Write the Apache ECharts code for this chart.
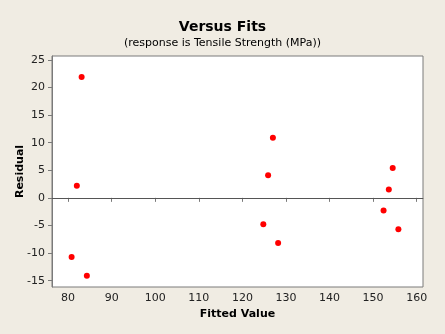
<!DOCTYPE html>
<html>
<head>
<meta charset="utf-8">
<script src="https://cdn.jsdelivr.net/npm/echarts@6/dist/echarts.min.js"></script>
<style>
html, body { margin: 0; padding: 0; background: #F0ECE3; }
#main { width: 445px; height: 334px; }
</style>
</head>
<body>
<div id="main"></div>
<script>
// fitted values and residuals
var fitted = [83.1, 82.0, 80.8, 84.3, 127.0, 125.9, 124.8, 128.2, 154.5, 153.6, 152.4, 155.8];
var residual = [21.9, 2.2, -10.7, -14.1, 10.9, 4.1, -4.8, -8.2, 5.4, 1.5, -2.3, -5.7];
var xTicks = [80, 90, 100, 110, 120, 130, 140, 150, 160];
var yTicks = [-15, -10, -5, 0, 5, 10, 15, 20, 25];

var points = [];
for (var i = 0; i < fitted.length; i++) {
    points.push([fitted[i], residual[i]]);
}

var font = 'DejaVu Sans';
var myChart = echarts.init(document.getElementById('main'));
var option = {
    backgroundColor: '#F0ECE3',
    animation: false,
    title: {
        text: 'Versus Fits',
        subtext: '(response is Tensile Strength (MPa))',
        left: 'center',
        top: 15,
        itemGap: 4,
        textStyle: { fontFamily: font, fontSize: 14, fontWeight: 'bold', color: '#000' },
        subtextStyle: { fontFamily: font, fontSize: 11, color: '#000' }
    },
    grid: {
        left: 52, top: 56, right: 22, bottom: 47,
        outerBoundsMode: 'none',
        containLabel: false,
        show: true,
        backgroundColor: '#fff',
        borderColor: '#7a7a7a',
        borderWidth: 1
    },
    xAxis: {
        type: 'value',
        min: 76.3,
        max: 161.45,
        name: 'Fitted Value',
        nameLocation: 'middle',
        nameGap: 22,
        nameMoveOverlap: false,
        nameTextStyle: { fontFamily: font, fontSize: 11, fontWeight: 'bold', color: '#000' },
        splitLine: { show: false },
        axisLine: { lineStyle: { color: '#7a7a7a' } },
        axisTick: { length: 4, customValues: xTicks, lineStyle: { color: '#7a7a7a' } },
        axisLabel: { customValues: xTicks, margin: 6, fontFamily: font, fontSize: 11, color: '#222' }
    },
    yAxis: {
        type: 'value',
        min: -16.15,
        max: 25.7,
        name: 'Residual',
        nameLocation: 'middle',
        nameGap: 26,
        nameMoveOverlap: false,
        nameTextStyle: { fontFamily: font, fontSize: 11, fontWeight: 'bold', color: '#000' },
        splitLine: { show: false },
        axisLine: { lineStyle: { color: '#7a7a7a' } },
        axisTick: { length: 4, customValues: yTicks, lineStyle: { color: '#7a7a7a' } },
        axisLabel: { customValues: yTicks, margin: 7, fontFamily: font, fontSize: 11, color: '#222' }
    },
    series: [{
        type: 'scatter',
        data: points,
        symbolSize: 6,
        itemStyle: { color: '#FF0000', opacity: 1 },
        markLine: {
            silent: true,
            symbol: 'none',
            label: { show: false },
            lineStyle: { color: '#555', type: 'solid', width: 1 },
            data: [{ yAxis: 0 }]
        }
    }]
};
myChart.setOption(option);
</script>
</body>
</html>
